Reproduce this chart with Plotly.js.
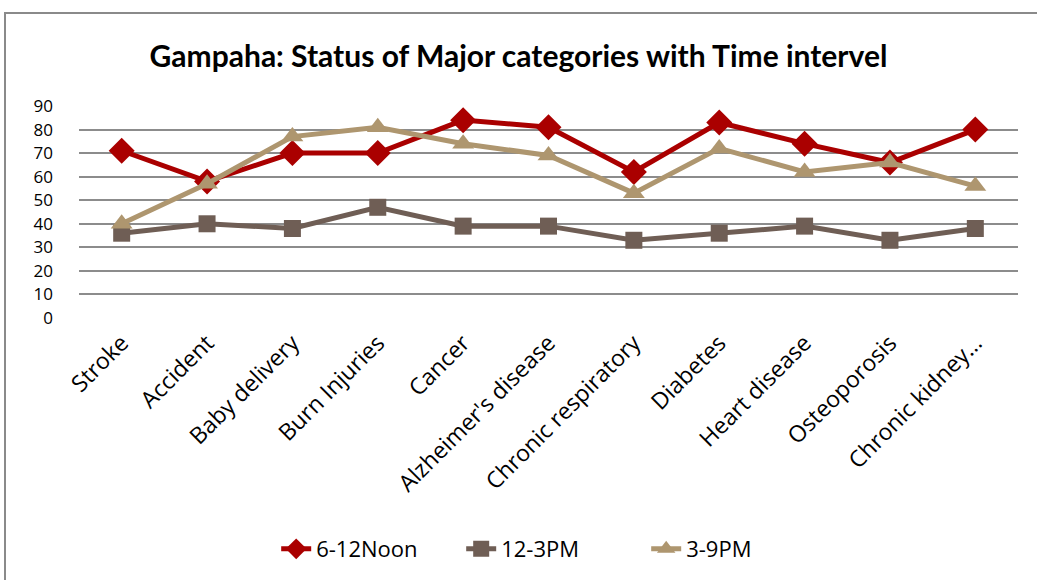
<!DOCTYPE html>
<html>
<head>
<meta charset="utf-8">
<script src="https://cdn.plot.ly/plotly-3.0.1.min.js"></script>
<style>
html,body{margin:0;padding:0;background:#fff;overflow:hidden;}
#wrap{position:relative;width:1037px;height:580px;}
#chart{position:absolute;left:0;top:0;width:1037px;height:580px;}
#frame{position:absolute;left:4px;top:12px;width:1060px;height:600px;border:2px solid #8a8a8a;pointer-events:none;}
</style>
</head>
<body>
<div id="wrap"><div id="chart"></div><div id="frame"></div></div>
<script>
const categories = ["Stroke","Accident","Baby delivery","Burn Injuries","Cancer","Alzheimer's disease","Chronic respiratory","Diabetes","Heart disease","Osteoporosis","Chronic kidney…"];
const morning = [71,58,70,70,84,81,62,83,74,66,80];
const afternoon = [36,40,38,47,39,39,33,36,39,33,38];
const evening = [40,57,77,81,74,69,53,72,62,66,56];
const seriesNames = ["6-12Noon","12-3PM","3-9PM"];
const yTicks = [0,10,20,30,40,50,60,70,80,90];

const font = "'Open Sans', 'Noto Sans', sans-serif";
function tr(name, y, color, symbol, size){
  return {x: categories, y: y, name: name, type: "scatter", mode: "lines+markers",
    line: {color: color, width: 5},
    marker: {symbol: symbol, size: size, color: color}};
}
const data = [
  tr(seriesNames[0], morning, "#AA0000", "diamond", 20),
  tr(seriesNames[1], afternoon, "#6F5E55", "square", 17),
  tr(seriesNames[2], evening, "#AE966F", "triangle-up", 19)
];
const layout = {
  width: 1037, height: 580,
  margin: {l: 79, r: 19, t: 106, b: 262},
  paper_bgcolor: "#fff", plot_bgcolor: "#fff",
  font: {family: font, color: "#000", size: 20},
  title: {text: "<b>Gampaha: Status of Major categories with Time intervel</b>",
    font: {family: "Lato, 'Open Sans', sans-serif", size: 30, color: "#000"},
    x: 0.5, xanchor: "center", y: 1 - 56/580, yanchor: "middle", yref: "container"},
  xaxis: {type: "category", tickangle: -45, showgrid: false, zeroline: false, showline: false,
    ticks: "", tickfont: {size: 23, family: font}, ticklabelstandoff: 6, range: [-0.5, 10.5], fixedrange: true},
  yaxis: {range: [0, 90], tickvals: yTicks, ticktext: yTicks.map(String), showgrid: true,
    gridcolor: "#8c8c8c", gridwidth: 2, zeroline: false, showline: false, ticks: "",
    ticklabelstandoff: 25, tickfont: {size: 17, family: font}, fixedrange: true},
  legend: {orientation: "h", x: 0.21, xanchor: "left", y: 1 - 549/580, yref: "container", yanchor: "middle",
    font: {size: 22, family: font}, entrywidth: 140, entrywidthmode: "pixels"},
  showlegend: true
};
Plotly.newPlot("chart", data, layout, {displayModeBar: false, staticPlot: true});
</script>
</body>
</html>
